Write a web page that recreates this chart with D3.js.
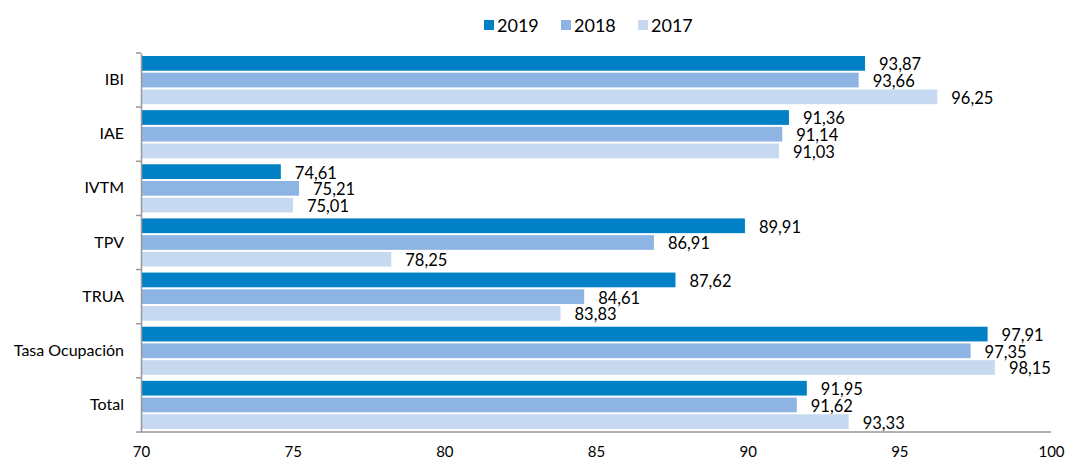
<!DOCTYPE html>
<html>
<head>
<meta charset="utf-8">
<script src="https://cdn.jsdelivr.net/npm/d3@7"></script>
<style>
  body { margin: 0; background: #fff; }
  svg text { font-family: Lato, "Open Sans", sans-serif; fill: #000; }
</style>
</head>
<body>
<script>
const w = 1067;
const h = 461;

const categories = ["IBI", "IAE", "IVTM", "TPV", "TRUA", "Tasa Ocupación", "Total"];
const series = ["2019", "2018", "2017"];
const values2019 = [93.87, 91.36, 74.61, 89.91, 87.62, 97.91, 91.95];
const values2018 = [93.66, 91.14, 75.21, 86.91, 84.61, 97.35, 91.62];
const values2017 = [96.25, 91.03, 75.01, 78.25, 83.83, 98.15, 93.33];
const xTicks = [70, 75, 80, 85, 90, 95, 100];
const colors = ["#0081c6", "#8eb4e3", "#c6d9f1"];

const seriesValues = [values2019, values2018, values2017];

const xScale = d3.scaleLinear()
                 .domain([70, 100])
                 .range([141, 1051]);

const yScale = d3.scaleBand()
                 .domain(categories)
                 .range([53, 432]);

const inner = d3.scaleBand()
                .domain(series)
                .range([3, yScale.bandwidth() - 3])
                .paddingInner(0.12);

const svg = d3.select("body")
              .append("svg")
              .attr("width", w)
              .attr("height", h);

const fmt = v => d3.format(".2f")(v).replace(".", ",");

categories.forEach((cat, i) => {
  const g = svg.append("g")
               .attr("transform", "translate(0," + yScale(cat) + ")");
  series.forEach((s, j) => {
    const v = seriesValues[j][i];
    g.append("rect")
     .attr("x", xScale(70))
     .attr("y", inner(s))
     .attr("width", xScale(v) - xScale(70))
     .attr("height", inner.bandwidth())
     .attr("fill", colors[j]);
    g.append("text")
     .attr("x", xScale(v) + 14)
     .attr("y", inner(s) + inner.bandwidth() / 2 + 7)
     .attr("font-size", "16.5px")
     .text(fmt(v));
  });
});

// y axis
const yAxis = d3.axisLeft(yScale).tickSize(0).tickPadding(17);
const yG = svg.append("g")
              .attr("transform", "translate(141,0)")
              .call(yAxis);
yG.select(".domain").attr("stroke", "#999").attr("stroke-width", 1.5);
yG.selectAll("text").attr("font-size", "16px").attr("font-family", "Lato, sans-serif");

// boundary ticks between categories
const bounds = categories.map(c => yScale(c));
svg.selectAll(".btick")
   .data(bounds)
   .enter()
   .append("line")
   .attr("class", "btick")
   .attr("x1", 136)
   .attr("x2", 141)
   .attr("y1", d => d)
   .attr("y2", d => d)
   .attr("stroke", "#999")
   .attr("stroke-width", 1.5);

// x axis
const xAxis = d3.axisBottom(xScale).tickValues(xTicks).tickSize(0).tickPadding(14)
                .tickFormat(d3.format("d"));
const xG = svg.append("g")
              .attr("transform", "translate(0,432)")
              .call(xAxis);
xG.select(".domain").remove();
xG.selectAll("text").attr("font-size", "15px").attr("font-family", "Lato, sans-serif");
svg.append("line")
   .attr("x1", 136).attr("x2", xScale(100))
   .attr("y1", 432).attr("y2", 432)
   .attr("stroke", "#999").attr("stroke-width", 1.5);

// legend
const legendX = [484, 561, 638];
series.forEach((s, j) => {
  svg.append("rect")
     .attr("x", legendX[j])
     .attr("y", 20)
     .attr("width", 10)
     .attr("height", 10)
     .attr("fill", colors[j]);
  svg.append("text")
     .attr("x", legendX[j] + 13)
     .attr("y", 32)
     .attr("font-size", "18px")
     .text(s);
});
</script>
</body>
</html>
